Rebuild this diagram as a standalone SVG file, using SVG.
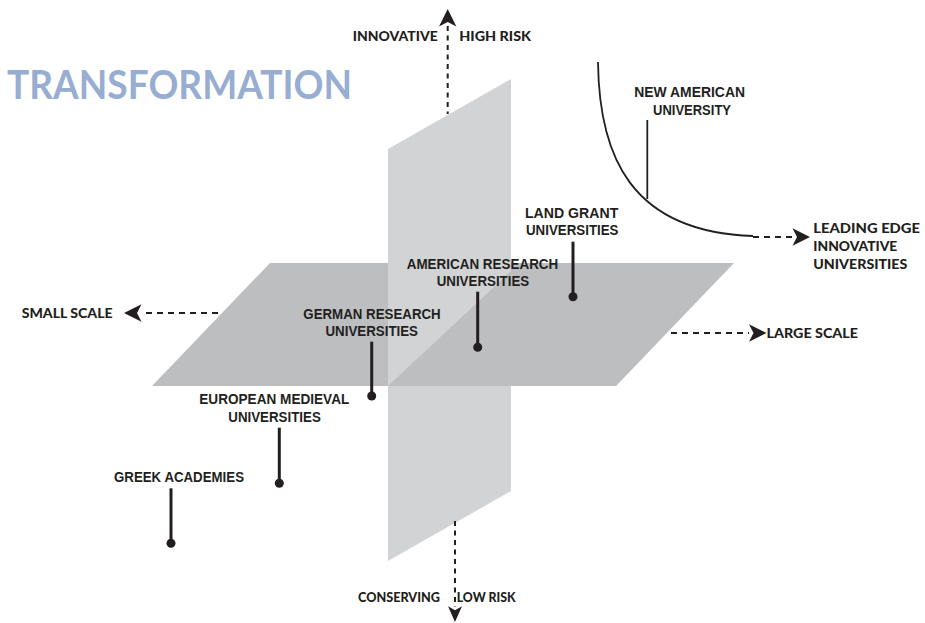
<svg xmlns="http://www.w3.org/2000/svg" width="925" height="623" viewBox="0 0 925 623">
<style>
.lbl{font-family:"Liberation Sans",Arial,sans-serif;font-weight:bold;font-size:14px;fill:#231f20}
.ax{font-family:Lato,"Liberation Sans",sans-serif;font-weight:900;font-size:13px;fill:#231f20}
.title{font-family:Lato,"Liberation Sans",sans-serif;font-weight:bold;font-size:41px;fill:#97add1}
.lead{stroke:#231f20;stroke-width:3;fill:none}
.thin{stroke:#231f20;stroke-width:1.8;fill:none}
.dot{fill:#231f20}
.dv{stroke:#231f20;stroke-width:2;fill:none;stroke-dasharray:5 4.5}
.dh{stroke:#231f20;stroke-width:2;fill:none;stroke-dasharray:6 5}
.ah{fill:#231f20}
</style>
<defs>
<path id="ah" d="M0,0 L-17.5,-8.7 L-13,0 L-17.5,8.7 Z"/>
</defs>
<rect width="925" height="623" fill="#ffffff"/>
<g id="planes">
<polygon points="270,263 734,263 616,386 152,386" fill="#bcbec0"/>
<polygon points="388,149 511,79 511,491 388,561" fill="#d1d3d4"/>
<polygon points="388,386 511,271 511,386" fill="#bcbec0"/>
</g>
<text id="title" class="title" x="7" y="99" textLength="345" lengthAdjust="spacingAndGlyphs">TRANSFORMATION</text>
<g id="connectors">
<line class="dv" x1="447.7" y1="26" x2="447.7" y2="114"/>
<use href="#ah" class="ah" transform="translate(447.7,9) rotate(-90)"/>
<line class="dv" x1="455" y1="521" x2="455" y2="607"/>
<use href="#ah" class="ah" transform="translate(455,622) rotate(90) scale(0.9,0.8)"/>
<line class="dh" x1="218" y1="313" x2="142" y2="313"/>
<use href="#ah" class="ah" transform="translate(124,313) rotate(180)"/>
<line class="dh" x1="671" y1="333" x2="749" y2="333"/>
<use href="#ah" class="ah" transform="translate(766.5,333)"/>
<path class="thin" d="M598,62 C599,155 630,232 753,236"/>
<line class="dh" x1="753" y1="237" x2="795" y2="237"/>
<use href="#ah" class="ah" transform="translate(810,237)"/>
</g>
<g id="axis-innovative"><text class="ax" x="352.7" y="40.5" textLength="85" lengthAdjust="spacingAndGlyphs">INNOVATIVE</text></g>
<g id="axis-high-risk"><text class="ax" x="459.3" y="40.5" textLength="71.7" lengthAdjust="spacingAndGlyphs">HIGH RISK</text></g>
<g id="axis-conserving"><text class="ax" x="358" y="601.5" textLength="82" lengthAdjust="spacingAndGlyphs">CONSERVING</text></g>
<g id="axis-low-risk"><text class="ax" x="456.7" y="601.5" textLength="59" lengthAdjust="spacingAndGlyphs">LOW RISK</text></g>
<g id="axis-small-scale"><text class="ax" x="21.7" y="318" textLength="91" lengthAdjust="spacingAndGlyphs">SMALL SCALE</text></g>
<g id="axis-large-scale"><text class="ax" x="766.5" y="338" textLength="91.5" lengthAdjust="spacingAndGlyphs">LARGE SCALE</text></g>
<g id="axis-leading-edge">
<text class="ax" style="font-size:14px" x="813.3" y="232.5" textLength="106.7" lengthAdjust="spacingAndGlyphs">LEADING EDGE</text>
<text class="ax" style="font-size:14px" x="813.3" y="250.5" textLength="84" lengthAdjust="spacingAndGlyphs">INNOVATIVE</text>
<text class="ax" style="font-size:14px" x="813.3" y="268.5" textLength="94" lengthAdjust="spacingAndGlyphs">UNIVERSITIES</text>
</g>
<g id="node-new-american">
<text class="lbl" x="634.3" y="96.5" textLength="110.7" lengthAdjust="spacingAndGlyphs">NEW AMERICAN</text>
<text class="lbl" x="653" y="115" textLength="78" lengthAdjust="spacingAndGlyphs">UNIVERSITY</text>
<line class="thin" x1="647.3" y1="120" x2="647.3" y2="199"/>
</g>
<g id="node-land-grant">
<text class="lbl" x="525" y="218.3" textLength="93.3" lengthAdjust="spacingAndGlyphs">LAND GRANT</text>
<text class="lbl" x="526" y="235" textLength="92.5" lengthAdjust="spacingAndGlyphs">UNIVERSITIES</text>
<line class="lead" x1="573" y1="241.7" x2="573" y2="296.7"/>
<circle class="dot" cx="573" cy="296.7" r="4.5"/>
</g>
<g id="node-american-research">
<text class="lbl" x="406.7" y="269" textLength="151.6" lengthAdjust="spacingAndGlyphs">AMERICAN RESEARCH</text>
<text class="lbl" x="436.7" y="286" textLength="92.5" lengthAdjust="spacingAndGlyphs">UNIVERSITIES</text>
<line class="lead" x1="477.7" y1="291.7" x2="477.7" y2="347.3"/>
<circle class="dot" cx="477.7" cy="347.3" r="4.5"/>
</g>
<g id="node-german-research">
<text class="lbl" x="303.3" y="318.5" textLength="137.4" lengthAdjust="spacingAndGlyphs">GERMAN RESEARCH</text>
<text class="lbl" x="325.5" y="336" textLength="92.5" lengthAdjust="spacingAndGlyphs">UNIVERSITIES</text>
<line class="lead" x1="371.7" y1="341.7" x2="371.7" y2="396"/>
<circle class="dot" cx="371.7" cy="396" r="4.5"/>
</g>
<g id="node-european-medieval">
<text class="lbl" x="199.3" y="403.7" textLength="150" lengthAdjust="spacingAndGlyphs">EUROPEAN MEDIEVAL</text>
<text class="lbl" x="228.3" y="421.5" textLength="92.5" lengthAdjust="spacingAndGlyphs">UNIVERSITIES</text>
<line class="lead" x1="279.3" y1="427.7" x2="279.3" y2="483.3"/>
<circle class="dot" cx="279.3" cy="483.3" r="4.5"/>
</g>
<g id="node-greek-academies">
<text class="lbl" x="114" y="481.5" textLength="130" lengthAdjust="spacingAndGlyphs">GREEK ACADEMIES</text>
<line class="lead" x1="171" y1="488.3" x2="171" y2="543.3"/>
<circle class="dot" cx="171" cy="543.3" r="4.5"/>
</g>
</svg>
